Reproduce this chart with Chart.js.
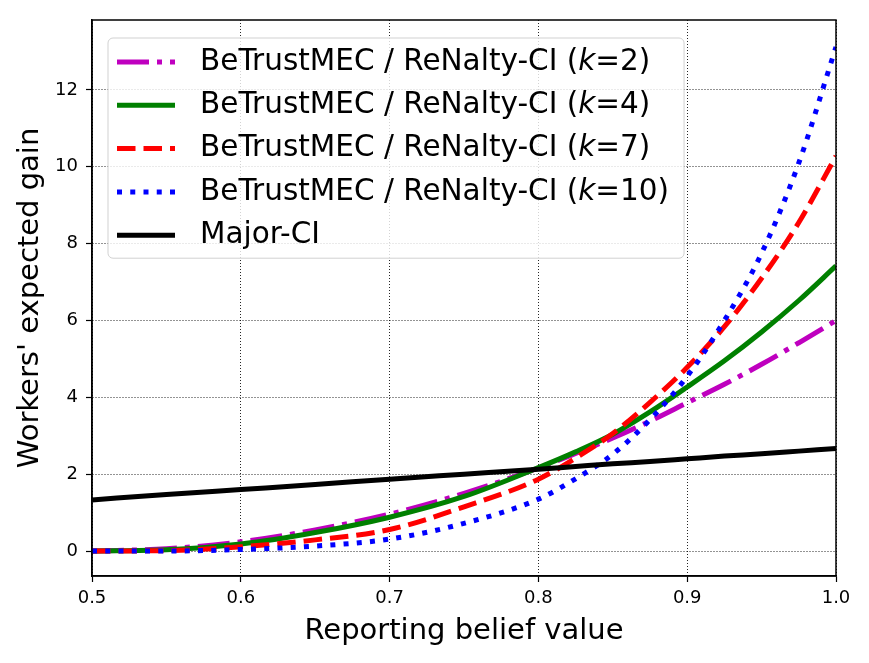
<!DOCTYPE html>
<html><head><meta charset="utf-8">
<script src="https://cdn.jsdelivr.net/npm/chart.js@4.4.0/dist/chart.umd.min.js"></script>
<style>html,body{margin:0;padding:0;background:#fff;}#wrap{width:869px;height:663px;}</style>
</head><body><div id="wrap"><canvas id="c" width="869" height="663"></canvas></div>
<script>
const beliefValues = [0.5, 0.55, 0.6, 0.65, 0.7, 0.75, 0.8, 0.825, 0.85, 0.875, 0.9, 0.925, 0.95, 0.975, 1.0];
const gainK2  = [0, 0.06, 0.24, 0.55, 0.96, 1.50, 2.16, 2.54, 2.94, 3.38, 3.86, 4.34, 4.86, 5.42, 6.00];
const gainK4  = [0, 0.03, 0.18, 0.48, 0.88, 1.42, 2.17, 2.58, 3.04, 3.62, 4.27, 4.95, 5.70, 6.52, 7.42];
const gainK7  = [0, 0.01, 0.11, 0.29, 0.56, 1.15, 1.87, 2.42, 3.06, 3.87, 4.78, 5.84, 7.10, 8.55, 10.28];
const gainK10 = [0, 0.00, 0.04, 0.13, 0.31, 0.72, 1.35, 1.88, 2.52, 3.42, 4.55, 6.00, 7.75, 10.10, 13.12];
const gainMajor = [1.33, 1.47, 1.60, 1.73, 1.87, 2.00, 2.13, 2.20, 2.27, 2.33, 2.40, 2.47, 2.53, 2.60, 2.67];
const seriesNames = [
  'BeTrustMEC / ReNalty-CI (k=2)',
  'BeTrustMEC / ReNalty-CI (k=4)',
  'BeTrustMEC / ReNalty-CI (k=7)',
  'BeTrustMEC / ReNalty-CI (k=10)',
  'Major-CI'
];
const xTicks = [0.5, 0.6, 0.7, 0.8, 0.9, 1.0];
const yTicks = [0, 2, 4, 6, 8, 10, 12];

const toPts = arr => arr.map((v, i) => ({x: beliefValues[i], y: v}));
const FONT = '"DejaVu Sans", "Liberation Sans", sans-serif';
Chart.defaults.font.family = FONT;
Chart.defaults.color = '#000';

const styles = [
  {color: '#bf00bf', dash: [32, 8, 5, 8]},
  {color: '#008000', dash: []},
  {color: '#ff0000', dash: [18.5, 8]},
  {color: '#0000ff', dash: [5, 8.25]},
  {color: '#000000', dash: []}
];
const seriesData = [gainK2, gainK4, gainK7, gainK10, gainMajor];

const datasets = seriesData.map((arr, i) => ({
  label: seriesNames[i],
  data: toPts(arr),
  borderColor: styles[i].color,
  backgroundColor: styles[i].color,
  borderWidth: 5,
  borderDash: styles[i].dash,
  borderCapStyle: 'butt',
  pointRadius: 0,
  pointHoverRadius: 0,
  fill: false,
  cubicInterpolationMode: 'monotone',
  order: 5 - i
}));

const innerLegend = {
  id: 'innerLegend',
  afterDatasetsDraw(chart) {
    const ctx = chart.ctx, a = chart.chartArea;
    const size = 29.5;
    const fN = size + 'px ' + FONT, fI = 'italic ' + size + 'px ' + FONT;
    const x0 = a.left + 16, y0 = a.top + 18;
    const firstRow = 24, rowH = 43.3;
    const s1 = x0 + 9, s2 = x0 + 67, tx = x0 + 92;
    ctx.save();
    const parts = chart.data.datasets.map(ds => {
      const m = ds.label.match(/^(.*\()k(=.*)$/);
      return m ? [[m[1], fN], ['k', fI], [m[2], fN]] : [[ds.label, fN]];
    });
    let maxW = 0;
    parts.forEach(p => {
      let w = 0;
      p.forEach(([t, f]) => { ctx.font = f; w += ctx.measureText(t).width; });
      maxW = Math.max(maxW, w);
    });
    const bw = tx - x0 + maxW + 15;
    const bh = firstRow * 2 + rowH * (parts.length - 1) - 1;
    ctx.beginPath();
    ctx.roundRect(x0, y0, bw, bh, 5);
    ctx.fillStyle = 'rgba(255,255,255,0.8)';
    ctx.fill();
    ctx.lineWidth = 1;
    ctx.strokeStyle = 'rgba(204,204,204,0.9)';
    ctx.stroke();
    chart.data.datasets.forEach((ds, i) => {
      const y = y0 + firstRow + i * rowH;
      ctx.beginPath();
      ctx.setLineDash(ds.borderDash || []);
      ctx.lineCap = 'butt';
      ctx.lineWidth = ds.borderWidth;
      ctx.strokeStyle = ds.borderColor;
      ctx.moveTo(s1, y); ctx.lineTo(s2, y);
      ctx.stroke();
      ctx.setLineDash([]);
      ctx.fillStyle = '#000';
      ctx.textBaseline = 'middle';
      ctx.textAlign = 'left';
      let x = tx;
      parts[i].forEach(([t, f]) => {
        ctx.font = f;
        ctx.fillText(t, x, y);
        x += ctx.measureText(t).width;
      });
    });
    ctx.restore();
  }
};

const frame = {
  id: 'frame',
  afterDraw(chart) {
    const ctx = chart.ctx, a = chart.chartArea;
    ctx.save();
    ctx.strokeStyle = '#000';
    ctx.lineWidth = 1.5;
    ctx.strokeRect(a.left, a.top, a.right - a.left, a.bottom - a.top);
    ctx.restore();
  }
};

new Chart(document.getElementById('c'), {
  type: 'line',
  data: {datasets},
  plugins: [innerLegend, frame],
  options: {
    responsive: false,
    devicePixelRatio: 1,
    animation: false,
    layout: {padding: {left: 0, right: 33, top: 20, bottom: 0}},
    plugins: {legend: {display: false}, tooltip: {enabled: false}},
    scales: {
      x: {
        type: 'linear',
        min: 0.5, max: 1.0,
        afterBuildTicks: s => { s.ticks = xTicks.map(v => ({value: v})); },
        afterFit: s => { s.height = 87; },
        ticks: {font: {size: 18}, padding: 6, maxRotation: 0, autoSkip: false,
                callback: v => Number(v).toFixed(1)},
        grid: {color: 'rgba(0,0,0,0.85)', lineWidth: 1, drawTicks: true, tickLength: 6,
               tickColor: '#000', tickWidth: 1.2, tickBorderDash: []},
        border: {display: true, color: '#000', width: 1.5, dash: [1, 2]},
        title: {display: true, text: 'Reporting belief value', font: {size: 29},
                padding: {top: 0, bottom: 14}}
      },
      y: {
        type: 'linear',
        min: -0.65, max: 13.82,
        afterBuildTicks: s => { s.ticks = yTicks.map(v => ({value: v})); },
        afterFit: s => { s.width = 92; },
        ticks: {font: {size: 18}, padding: 8, autoSkip: false, callback: v => String(v)},
        grid: {color: 'rgba(0,0,0,0.85)', lineWidth: 1, drawTicks: true, tickLength: 6,
               tickColor: '#000', tickWidth: 1.2, tickBorderDash: []},
        border: {display: true, color: '#000', width: 1.5, dash: [1, 2]},
        title: {display: true, text: "Workers' expected gain", font: {size: 29},
                padding: {top: 13, bottom: 0}}
      }
    }
  }
});
</script>
</body></html>
